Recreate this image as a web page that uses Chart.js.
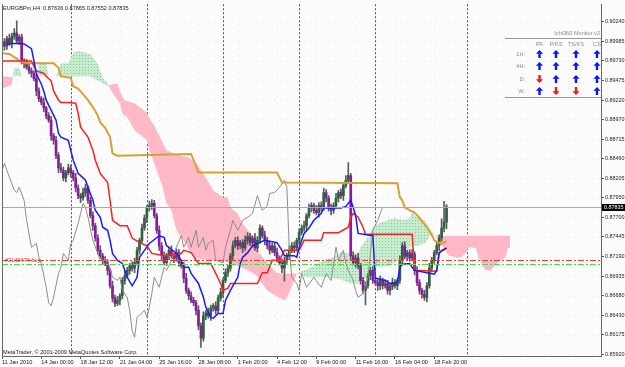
<!DOCTYPE html>
<html>
<head>
<meta charset="utf-8">
<script src="https://cdn.jsdelivr.net/npm/chart.js@4.4.1/dist/chart.umd.min.js"></script>
<style>
  html, body { margin: 0; padding: 0; background: #fcfcfd; }
  canvas { display: block; }
</style>
</head>
<body>
<canvas id="ichimokuChart" width="625" height="367"></canvas>
<script>
/* data - prices are kept in pips (1/10000) */

const symbolName = "EURGBPm,H4";
const firstOpen = 8998;

// closes of bars 1..181 (bar index = position + 1)
const closes = [
    8992, 9002, 8996, 9005, 9009, 8999, 9004, 8973, 8970, 8965,
    8960, 8957, 8950, 8934, 8924, 8919, 8912, 8902, 8896, 8876,
    8870, 8850, 8834, 8831, 8821, 8828, 8834, 8828, 8821, 8808,
    8798, 8795, 8802, 8808, 8792, 8772, 8759, 8743, 8727, 8720,
    8714, 8711, 8701, 8681, 8665, 8658, 8662, 8668, 8688, 8694,
    8701, 8707, 8704, 8711, 8727, 8740, 8756, 8769, 8782, 8785,
    8788, 8772, 8753, 8733, 8720, 8711, 8720, 8727, 8720, 8717,
    8724, 8711, 8707, 8691, 8675, 8668, 8662, 8659, 8649, 8629,
    8613, 8642, 8646, 8642, 8652, 8655, 8649, 8665, 8672, 8688,
    8698, 8704, 8720, 8733, 8740, 8733, 8737, 8730, 8740, 8745,
    8737, 8743, 8730, 8740, 8756, 8746, 8740, 8733, 8727, 8733,
    8724, 8717, 8711, 8704, 8714, 8720, 8727, 8733, 8730, 8740,
    8750, 8756, 8759, 8772, 8782, 8785, 8779, 8776, 8785, 8782,
    8802, 8795, 8782, 8779, 8785, 8795, 8802, 8798, 8811, 8818,
    8824, 8720, 8711, 8717, 8707, 8688, 8675, 8681, 8694, 8701,
    8688, 8685, 8681, 8688, 8681, 8684, 8675, 8680, 8685, 8681,
    8688, 8714, 8733, 8719, 8724, 8717, 8722, 8701, 8685, 8675,
    8670, 8666, 8681, 8704, 8714, 8724, 8733, 8743, 8756, 8763.6,
    8783.5
];

const upperWick = [
    4, 3, 6, 4, 6, 16, 3, 4, 3, 5,   6, 4, 3, 5, 4, 3, 6, 2, 4, 5,
    3, 5, 4, 6, 4, 3, 5, 4, 3, 6,    4, 3, 6, 5, 3, 4, 5, 3, 4, 6,
    3, 5, 4, 3, 6, 4, 5, 3, 4, 6,    4, 3, 5, 6, 4, 3, 5, 4, 3, 6,
    5, 4, 3, 6, 4, 5, 3, 4, 6, 3,    5, 4, 3, 4, 6, 3, 5, 4, 3, 6,
    4, 5, 3, 6, 4, 3, 5, 4, 6, 3,    5, 4, 3, 6, 4, 5, 3, 4, 6, 5,
    4, 3, 6, 5, 4, 3, 6, 4, 5, 3,    4, 6, 3, 5, 4, 3, 6, 4, 5, 3,
    5, 4, 6, 3, 5, 4, 3, 6, 4, 5,    6, 4, 3, 5, 4, 6, 3, 5, 4, 6,
    17, 3, 5, 4, 6, 3, 4, 5, 3, 4,   5, 3, 4, 6, 3, 5, 4, 3, 6, 4,
    3, 6, 4, 5, 3, 4, 6, 3, 5, 4,    3, 5, 4, 6, 4, 3, 5, 4, 12, 27,
    3
];

const lowerWick = [
    5, 4, 3, 6, 4, 3, 5, 4, 6, 3,    4, 5, 3, 6, 4, 3, 5, 4, 3, 6,
    5, 4, 6, 3, 4, 5, 3, 6, 4, 5,    4, 6, 3, 5, 4, 3, 6, 4, 5, 3,
    5, 4, 6, 3, 5, 4, 3, 6, 4, 5,    3, 5, 4, 6, 3, 5, 4, 3, 6, 4,
    5, 3, 4, 6, 5, 3, 4, 5, 3, 6,    4, 5, 3, 6, 4, 5, 3, 4, 6, 5,
    12, 4, 5, 3, 6, 4, 5, 3, 4, 6,   3, 5, 4, 6, 3, 5, 4, 6, 3, 5,
    4, 6, 3, 5, 4, 3, 6, 4, 5, 3,    4, 5, 3, 6, 17, 4, 5, 3, 6, 4,
    5, 3, 4, 6, 3, 5, 4, 3, 6, 4,    3, 5, 4, 6, 4, 3, 5, 4, 6, 3,
    4, 5, 3, 6, 4, 5, 4, 19, 3, 5,   4, 3, 6, 5, 4, 3, 5, 6, 4, 3,
    5, 4, 6, 3, 5, 4, 3, 6, 4, 5,    5, 4, 6, 3, 5, 4, 3, 6, 4, 5,
    8.4
];

// tenkan (blue)
const tenkanIdx = [2,7,9,12,13,14,16,17,18,20,22,23,24,27,28,29,31,34,35,37,38,40,41,43,44,45,47,49,51,53,55,56,58,60,64,66,67,68,71,73,74,76,77,80,82,83,85,86,88,90,91,93,96,97,98,100,102,104,107,112,114,115,119,120,121,123,125,127,130,131,138,140,142,143,144,145,151,152,156,158,161,162,163,166,167,168,173,176,177,178,181];
const tenkanVals = [8995,8996,8995,8989,8973,8956,8943,8934,8922,8909,8896,8879,8874,8870,8857,8844,8827,8818,8809,8792,8779,8770,8757,8753,8740,8723,8714,8710,8692,8681,8692,8718,8727,8736,8746,8744,8733,8731,8723,8714,8705,8705,8697,8684,8666,8653,8640,8639,8645,8645,8662,8675,8692,8710,8718,8724,8733,8736,8740,8737,8727,8720,8720,8718,8731,8749,8756,8766,8775,8782,8782,8784,8792,8783,8772,8749,8746,8691,8688,8684,8685,8705,8709,8710,8705,8701,8698,8696,8701,8724,8730];

// kijun (red)
const kijunIdx = [0,12,13,14,17,18,20,21,23,24,27,30,31,32,35,37,38,40,43,44,45,48,51,53,56,59,61,66,73,74,77,80,85,87,89,90,92,93,104,106,108,110,113,115,121,123,130,131,137,141,142,143,145,147,148,167,168,177,178,179,181];
const kijunVals = [8973,8973,8966,8960,8957,8953,8947,8934,8922,8919,8919,8918,8905,8887,8874,8857,8844,8827,8815,8792,8766,8759,8759,8743,8737,8733,8723,8720,8723,8727,8724,8710,8710,8697,8684,8675,8678,8684,8684,8698,8698,8714,8714,8727,8727,8740,8740,8750,8750,8757,8770,8775,8770,8757,8748,8748,8701,8700,8723,8727,8730];

// higher timeframe line (orange)
const trendIdx = [0,3,6,7,10,21,23,24,28,29,31,33,35,37,39,40,42,44,45,47,77,80,112,114,161,162,163,164,166,168,170,173,175,176,179,181];
const trendVals = [8983,8982,8976,8973,8970,8970,8964,8953,8951,8940,8937,8930,8922,8913,8902,8893,8886,8874,8853,8850,8852,8828,8828,8815,8814,8796,8792,8783,8779,8776,8769,8757,8747,8740,8735,8739];

// chikou (grey)
const chikouIdx = [0,1,3,5,6,7,9,10,12,14,15,16,18,19,20,21,23,24,25,27,28,29,31,33,34,35,37,39,40,43,45,47,48,49,51,52,53,54,55,58,59,60,61,62,64,66,67,69,71,73,74,76,77,79,80,82,83,84,86,87,90,91,93,94,96,98,100,102,104,105,106,108,109,111,113,115,116,117,118,120,121,122,124,127,130,132,134,136,137,139,140,141,143,144,145,147,149,150,151,153,154,155];
const chikouVals = [8831,8840,8822,8805,8802,8809,8792,8766,8731,8736,8718,8710,8679,8659,8655,8666,8697,8705,8723,8714,8736,8740,8762,8788,8783,8770,8740,8723,8714,8714,8692,8688,8692,8675,8666,8649,8623,8614,8640,8649,8640,8653,8671,8692,8679,8705,8701,8714,8731,8746,8731,8744,8731,8753,8731,8744,8727,8736,8740,8714,8711,8731,8753,8766,8753,8766,8770,8775,8798,8788,8779,8785,8801,8802,8809,8818,8809,8727,8692,8684,8675,8697,8679,8692,8679,8697,8688,8731,8714,8727,8710,8701,8688,8675,8666,8671,8692,8723,8753,8766,8775,8783];

// cloud edges (senkou A / senkou B)
const cloudIdx = [0,4,5,7,8,14,15,18,19,22,24,27,29,31,36,39,41,43,44,47,48,49,50,51,54,59,60,62,64,65,67,69,70,71,74,76,79,82,86,90,92,93,96,98,102,104,105,108,110,112,115,116,119,120,123,124,126,133,135,138,139,142,145,146,149,150,151,154,157,160,163,165,166,167,169,172,173,174,176,177,178,181,182,185,187,189,190,193,194,196,197,199,200,203,205,206,207];
const spanA = [
    8937,8942,8964,8964,8953,8953,8969,8969,8953,8953,
    8970,8970,8983,8986,8982,8969,8951,8944,8937,8922,
    8918,8905,8902,8900,8883,8870,8857,8840,8822,8814,
    8788,8779,8766,8753,8740,8727,8717,8715,8714,8714,
    8711,8710,8707,8704,8698,8693,8688,8675,8671,8667,
    8662,8665,8688,8697,8701,8702,8705,8717,8718,8724,
    8724,8723,8723,8731,8744,8750,8757,8763,8766,8769,
    8766,8767,8769,8776,8770,8766,8762,8756,8748,8744,
    8740,8724,8720,8718,8718,8724,8731,8730,8718,8705,
    8701,8701,8705,8714,8718,8730,8730
];
const spanB = [
    8953,8952,8953,8953,8953,8953,8953,8953,8953,8953,
    8953,8953,8953,8953,8953,8947,8944,8940,8942,8944,
    8934,8927,8922,8921,8918,8906,8899,8889,8876,8870,
    8857,8854,8853,8852,8849,8848,8841,8827,8805,8796,
    8796,8783,8775,8762,8746,8727,8723,8711,8704,8698,
    8697,8697,8697,8697,8694,8692,8692,8692,8691,8689,
    8688,8684,8684,8687,8692,8705,8705,8706,8707,8711,
    8718,8727,8731,8732,8733,8736,8739,8746,8748,8746,
    8746,8746,8746,8746,8746,8746,8746,8746,8746,8746,
    8746,8746,8746,8746,8746,8746,8746
];

const timeLabelIdx = [0, 16, 32, 48, 64, 80, 96, 112, 128, 144, 160, 176];
const timeLabels = ["11 Jan 2010", "14 Jan 00:00", "18 Jan 12:00", "21 Jan 04:00", "25 Jan 16:00",
    "28 Jan 08:00", "1 Feb 20:00", "4 Feb 12:00", "9 Feb 00:00", "11 Feb 16:00",
    "16 Feb 04:00", "18 Feb 20:00"];
const priceTicks = [0.90240, 0.89985, 0.89730, 0.89475, 0.89220, 0.88970, 0.88715, 0.88460, 0.88205,
    0.87950, 0.87700, 0.87445, 0.87190, 0.86935, 0.86680, 0.86430, 0.86175, 0.85920];

const separatorIdx = [28, 59, 90, 121, 152, 189.5];
const orderPrice = 0.87140;
const targetPrice = 0.87088;
const orderText = "#2149474 buy";

const monitorTitle = "Ichi360 Monitor v2";
const monitorCols = ["PA", "P/KS", "TS/KS", "CS"];
const monitorRows = ["1H:", "4H:", "D:", "W:"];
const monitorSignals = [
    [1, 1, 1, 1],
    [1, 1, 1, 1],
    [-1, 1, 1, 1],
    [1, -1, -1, 1]
];

/* build candles */

const toPrice = p => p / 10000;
const candleIdx = closes.map((c, k) => k + 1);
const opens = closes.map((c, k) => k === 0 ? firstOpen : closes[k - 1]);
const highs = closes.map((c, k) => Math.max(opens[k], c) + upperWick[k]);
const lows = closes.map((c, k) => Math.min(opens[k], c) - lowerWick[k]);

const lastK = closes.length - 1;
const bidPrice = toPrice(closes[lastK]);

function points(idx, vals) {
    return idx.map((x, k) => ({ x: x, y: toPrice(vals[k]) }));
}

const FONT = '"Liberation Sans", Arial, sans-serif';

// dotted green for the bullish cloud
const patCanvas = document.createElement("canvas");
patCanvas.width = 3;
patCanvas.height = 3;
const patCtx = patCanvas.getContext("2d");
patCtx.fillStyle = "#c6eec6";
patCtx.fillRect(0, 0, 3, 3);
patCtx.fillStyle = "#8ab8d8";
patCtx.fillRect(1, 1, 1, 1);
const greenCloud = patCtx.createPattern(patCanvas, "repeat");

/* drawing helpers */

function drawArrow(ctx, cx, cy, up, color) {
    const s = up ? -1 : 1;
    ctx.fillStyle = color;
    ctx.beginPath();
    ctx.moveTo(cx, cy + s * 4);
    ctx.lineTo(cx + 3.6, cy + s * 0.3);
    ctx.lineTo(cx + 1.2, cy + s * 0.3);
    ctx.lineTo(cx + 1.2, cy - s * 4);
    ctx.lineTo(cx - 1.2, cy - s * 4);
    ctx.lineTo(cx - 1.2, cy + s * 0.3);
    ctx.lineTo(cx - 3.6, cy + s * 0.3);
    ctx.closePath();
    ctx.fill();
}

function hLine(ctx, area, py, color, dash) {
    ctx.strokeStyle = color;
    ctx.setLineDash(dash);
    ctx.lineWidth = 1;
    ctx.beginPath();
    ctx.moveTo(area.left, py);
    ctx.lineTo(area.right, py);
    ctx.stroke();
}

const terminalPlugin = {
    id: "terminal",
    beforeDraw(chart) {
        const ctx = chart.ctx;
        ctx.save();
        ctx.fillStyle = "#fcfcfd";
        ctx.fillRect(0, 0, chart.width, chart.height);
        ctx.restore();
    },
    beforeDatasetsDraw(chart) {
        const { ctx, chartArea: a, scales: { x, y } } = chart;
        ctx.save();
        // faint dotted grid
        ctx.fillStyle = "rgba(200,200,212,0.45)";
        y.ticks.forEach(t => {
            const py = Math.round(y.getPixelForValue(t.value));
            for (let px = a.left + 2; px < a.right; px += 6) ctx.fillRect(px, py, 1, 1);
        });
        x.ticks.forEach(t => {
            const px = Math.round(x.getPixelForValue(t.value));
            for (let py = a.top + 2; py < a.bottom; py += 6) ctx.fillRect(px, py, 1, 1);
        });
        // period separators
        ctx.strokeStyle = "#555";
        ctx.setLineDash([2, 2]);
        ctx.lineWidth = 1;
        separatorIdx.forEach(i => {
            const px = Math.round(x.getPixelForValue(i)) + 0.5;
            ctx.beginPath();
            ctx.moveTo(px, a.top);
            ctx.lineTo(px, a.bottom);
            ctx.stroke();
        });
        ctx.restore();
    },
    afterDatasetsDraw(chart) {
        const { ctx, chartArea: a, scales: { y } } = chart;
        ctx.save();
        hLine(ctx, a, Math.round(y.getPixelForValue(bidPrice)) + 0.5, "#aaaaaa", []);
        hLine(ctx, a, Math.round(y.getPixelForValue(orderPrice)) + 0.5, "#ff3c3c", [6, 2, 2, 2]);
        hLine(ctx, a, Math.round(y.getPixelForValue(targetPrice)) + 0.5, "#46e046", [6, 2, 2, 2]);
        ctx.restore();
    },
    afterDraw(chart) {
        const { ctx, chartArea: a, scales: { y } } = chart;
        ctx.save();
        // left frame
        ctx.strokeStyle = "#666";
        ctx.lineWidth = 1;
        ctx.beginPath();
        ctx.moveTo(a.left + 0.5, a.top);
        ctx.lineTo(a.left + 0.5, a.bottom);
        ctx.stroke();

        ctx.textBaseline = "middle";
        ctx.textAlign = "left";
        ctx.font = "5.6px " + FONT;
        ctx.fillStyle = "#222";
        const ohlc = [opens[lastK], highs[lastK], lows[lastK], closes[lastK]]
            .map(v => toPrice(v).toFixed(5)).join(" ");
        ctx.fillText(symbolName + "  " + ohlc, 3, 8);
        ctx.fillText("MetaTrader, \u00a9 2001-2009 MetaQuotes Software Corp.", 3, 352);

        ctx.fillStyle = "#d03030";
        ctx.fillText(orderText, 5, y.getPixelForValue(orderPrice));

        // bid price label
        const by = Math.round(y.getPixelForValue(bidPrice));
        ctx.fillStyle = "#000";
        ctx.fillRect(602, by - 3, 23, 7);
        ctx.fillStyle = "#fff";
        ctx.font = "5.4px " + FONT;
        ctx.fillText(bidPrice.toFixed(5), 604, by + 0.5);

        // ichi360 monitor panel
        ctx.font = "5.6px " + FONT;
        ctx.fillStyle = "#8a8a8a";
        ctx.textAlign = "right";
        ctx.fillText(monitorTitle, 600, 33);
        ctx.strokeStyle = "#9a9a9a";
        ctx.beginPath();
        ctx.moveTo(505, 38.5);
        ctx.lineTo(601, 38.5);
        ctx.moveTo(505, 97.5);
        ctx.lineTo(601, 97.5);
        ctx.stroke();
        const colX = [539.5, 556, 576, 597];
        const rowY = [54, 66, 79, 91];
        ctx.textAlign = "center";
        monitorCols.forEach((c, j) => ctx.fillText(c, colX[j], 44));
        ctx.textAlign = "right";
        monitorRows.forEach((r, k) => {
            ctx.fillStyle = "#8a8a8a";
            ctx.fillText(r, 525, rowY[k]);
            monitorSignals[k].forEach((s, j) => {
                drawArrow(ctx, colX[j], rowY[k], s > 0, s > 0 ? "#0a14ff" : "#ff1414");
            });
        });
        ctx.restore();
    }
};

/* chart */

const chart = new Chart(document.querySelector("#ichimokuChart"), {
    type: "line",
    data: {
        datasets: [
            {
                label: "Senkou A",
                data: points(cloudIdx, spanA),
                borderWidth: 0,
                pointRadius: 0,
                fill: { target: "+1", above: greenCloud, below: "#ffb8c6" },
                order: 20
            },
            {
                label: "Senkou B",
                data: points(cloudIdx, spanB),
                borderWidth: 0,
                pointRadius: 0,
                fill: false,
                order: 21
            },
            {
                type: "bar",
                label: "Wicks",
                data: candleIdx.map((x, k) => ({ x: x, y: [toPrice(lows[k]), toPrice(highs[k])] })),
                backgroundColor: "#5c5c5c",
                barThickness: 1,
                grouped: false,
                order: 6
            },
            {
                type: "bar",
                label: "Bodies",
                data: candleIdx.map((x, k) => ({ x: x, y: [toPrice(opens[k]), toPrice(closes[k])] })),
                backgroundColor: closes.map((c, k) => c >= opens[k] ? "#2f6140" : "#8c1aa0"),
                barThickness: 2,
                minBarLength: 1,
                grouped: false,
                order: 5
            },
            {
                label: "Chikou",
                data: points(chikouIdx, chikouVals),
                borderColor: "#8e8e8e",
                borderWidth: 1,
                pointRadius: 0,
                order: 4
            },
            {
                label: "Trend",
                data: points(trendIdx, trendVals),
                borderColor: "#d9a032",
                borderWidth: 2,
                pointRadius: 0,
                order: 3
            },
            {
                label: "Kijun",
                data: points(kijunIdx, kijunVals),
                borderColor: "#ff2020",
                borderWidth: 1.5,
                pointRadius: 0,
                order: 2
            },
            {
                label: "Tenkan",
                data: points(tenkanIdx, tenkanVals),
                borderColor: "#1a1aff",
                borderWidth: 1.5,
                pointRadius: 0,
                order: 1
            }
        ]
    },
    options: {
        responsive: false,
        animation: false,
        devicePixelRatio: 1,
        events: [],
        layout: { padding: { left: 2, top: 3, right: 0, bottom: 0 } },
        plugins: {
            legend: { display: false },
            tooltip: { enabled: false }
        },
        scales: {
            x: {
                type: "linear",
                min: 0,
                max: 243.9,
                offset: false,
                afterBuildTicks: scale => {
                    scale.ticks = timeLabelIdx.map(v => ({ value: v }));
                },
                afterFit: scale => { scale.height = 11; },
                grid: { offset: false, drawOnChartArea: false, tickLength: 3, tickColor: "#555" },
                border: { display: true, color: "#666" },
                ticks: {
                    autoSkip: false,
                    maxRotation: 0,
                    align: "start",
                    padding: 0,
                    color: "#222",
                    font: { family: FONT, size: 5.6 },
                    callback: value => timeLabels[timeLabelIdx.indexOf(value)]
                }
            },
            y: {
                position: "right",
                min: 0.85898,
                max: 0.90466,
                afterBuildTicks: scale => {
                    scale.ticks = priceTicks.map(v => ({ value: v }));
                },
                afterFit: scale => { scale.width = 24; },
                grid: { drawOnChartArea: false, tickLength: 3, tickColor: "#555" },
                border: { display: true, color: "#666" },
                ticks: {
                    padding: 1,
                    color: "#222",
                    font: { family: FONT, size: 5.4 },
                    callback: value => value.toFixed(5)
                }
            }
        }
    },
    plugins: [terminalPlugin]
});
</script>
</body>
</html>
